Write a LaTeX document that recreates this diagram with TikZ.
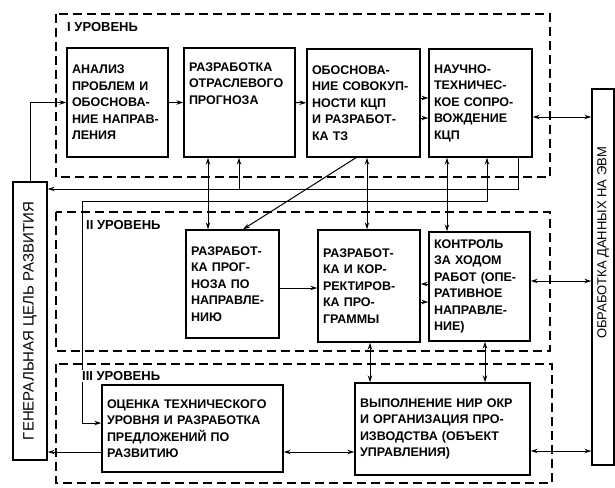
\documentclass[tikz,border=0pt]{standalone}
\usepackage{fontspec}
\setmainfont{Liberation Sans}
\usepackage{graphicx}
\usepackage{tikz}
\usetikzlibrary{arrows.meta}
\newcommand{\toptext}[2]{\parbox[c][#1][t]{\linewidth}{\raggedright #2}}

\begin{document}
\begin{tikzpicture}[x=1pt,y=-1pt,>={Stealth[length=7pt,width=4.5pt]},
  blk/.style={draw,line width=1.4pt,align=left,font=\fontsize{12.5}{16.5}\selectfont\bfseries,inner xsep=5pt,inner ysep=2pt},
  tall/.style={draw,line width=1.4pt,inner sep=2pt},
  frame/.style={line width=1.1pt,dash pattern=on 9pt off 5pt},
  lvl/.style={font=\fontsize{13}{15}\selectfont\bfseries,anchor=west,inner sep=1pt},
  link/.style={line width=1pt}]
\useasboundingbox (0,0) rectangle (615,487);
% level frames
\draw[frame] (56,14) rectangle (550,177);
\draw[frame] (56,212) rectangle (550,351);
\draw[frame] (56,364) rectangle (552,483);
% side boxes
\node[tall,minimum width=34pt,minimum height=278pt] (G) at (30,321)
  {\rotatebox{90}{\fontsize{15}{17}\selectfont ГЕНЕРАЛЬНАЯ ЦЕЛЬ РАЗВИТИЯ}};
\node[tall,minimum width=22pt,minimum height=376pt] (R) at (603,277)
  {\rotatebox{90}{\fontsize{13}{15}\selectfont\hspace*{68pt}ОБРАБОТКА ДАННЫХ НА ЭВМ}};
% I level
\node[blk,text width=91pt,minimum height=109pt] (A1) at (117.5,102.5)
  {АНАЛИЗ\\ПРОБЛЕМ И\\ОБОСНОВА-\\НИЕ НАПРАВ-\\ЛЕНИЯ};
\node[blk,text width=101pt,minimum height=109pt] (A2) at (239.5,102.5)
  {\toptext{80pt}{РАЗРАБОТКА\\ОТРАСЛЕВОГО\\ПРОГНОЗА}};
\node[blk,text width=103pt,minimum height=108pt] (A3) at (363.5,103)
  {ОБОСНОВА-\\НИЕ СОВОКУП-\\НОСТИ КЦП\\И РАЗРАБОТ-\\КА ТЗ};
\node[blk,text width=93pt,minimum height=108pt] (A4) at (480.5,103)
  {НАУЧНО-\\ТЕХНИЧЕС-\\КОЕ СОПРО-\\ВОЖДЕНИЕ\\КЦП};
% II level
\node[blk,text width=83pt,minimum height=108pt] (B1) at (232.5,284)
  {РАЗРАБОТ-\\КА ПРОГ-\\НОЗА ПО\\НАПРАВЛЕ-\\НИЮ};
\node[blk,text width=92pt,minimum height=112pt] (B2) at (369,286)
  {РАЗРАБОТ-\\КА И КОР-\\РЕКТИРОВ-\\КА ПРО-\\ГРАММЫ};
\node[blk,text width=91pt,minimum height=109pt] (B3) at (479.5,286.5)
  {КОНТРОЛЬ\\ЗА ХОДОМ\\РАБОТ (ОПЕ-\\РАТИВНОЕ\\НАПРАВЛЕ-\\НИЕ)};
% III level
\node[blk,text width=171pt,minimum height=87pt] (C1) at (192.5,428.5)
  {ОЦЕНКА ТЕХНИЧЕСКОГО\\УРОВНЯ И РАЗРАБОТКА\\ПРЕДЛОЖЕНИЙ ПО\\РАЗВИТИЮ};
\node[blk,text width=165pt,minimum height=92pt] (C2) at (442.5,429)
  {ВЫПОЛНЕНИЕ НИР ОКР\\И ОРГАНИЗАЦИЯ ПРО-\\ИЗВОДСТВА (ОБЪЕКТ\\УПРАВЛЕНИЯ)};
% I level links
\draw[link,->] (G.north) |- (A1.west);
\draw[link,->] (A1) -- (A2);
\draw[link,->] (A2) -- (A3);
\draw[link,->] (A3.east |- 0,98) -- (A4.west |- 0,98);
\draw[link,->] (A3.east |- 0,118) -- (A4.west |- 0,118);
\draw[link,<->] (A4.east |- 0,117) -- (R.west |- 0,117);
% between levels
\coordinate (fa) at (239,189);
\draw[link,->] (A4.south -| 518,0) |- (G.east |- fa);
\draw[link,->] (fa) -- (A2.south -| fa);
\draw[link,<->] (A4.south -| 487,0) |- (82,201) |- (C1.west |- 0,423);
\draw[link,<->] (A2.south -| 208,0) -- (B1.north -| 208,0);
\draw[link,->] (A3.south -| 356,0) -- (B1.north -| 243,0);
\draw[link,<->] (A3.south -| 367,0) -- (B2.north -| 367,0);
\draw[link,<->] (A4.south -| 447,0) -- (B3.north -| 447,0);
% II level links
\draw[link,->] (B1.east |- 0,288) -- (B2.west |- 0,288);
\draw[link,->] (B3.west |- 0,284) -- (B2.east |- 0,284);
\draw[link,->] (B2.east |- 0,302) -- (B3.west |- 0,302);
\draw[link,<->] (B3.east |- 0,281) -- (R.west |- 0,281);
\draw[link,<->] (B2.south -| 370,0) -- (C2.north -| 370,0);
\draw[link,<->] (B3.south -| 485,0) -- (C2.north -| 485,0);
% III level links
\draw[link,<->] (C1.east |- 0,452) -- (C2.west |- 0,452);
\draw[link,<->] (C2.east |- 0,451) -- (R.west |- 0,451);
\draw[link,->] (C1.west |- 0,452) -- (G.east |- 0,452);
% level titles
\node[lvl] (L1) at (66,27) {I УРОВЕНЬ};
\node[lvl] (L2) at (85,225) {II УРОВЕНЬ};
\node[lvl,fill=white] (L3) at (81,376) {III УРОВЕНЬ};
\end{tikzpicture}
\end{document}
